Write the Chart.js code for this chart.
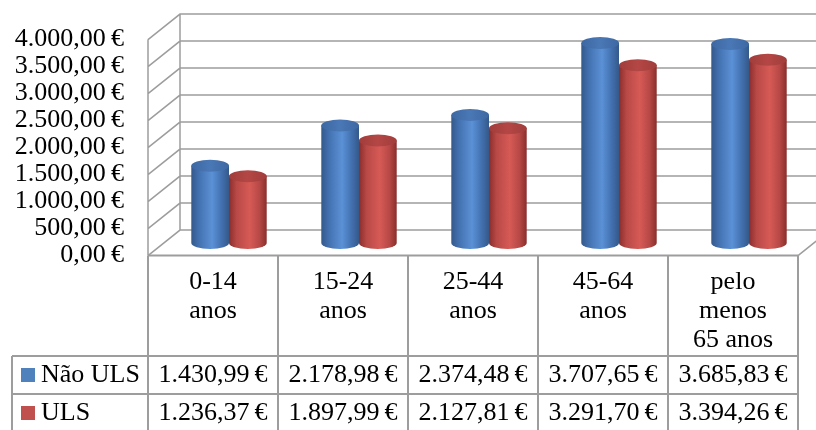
<!DOCTYPE html>
<html>
<head>
<meta charset="utf-8">
<script src="https://cdn.jsdelivr.net/npm/chart.js@4.4.0/dist/chart.umd.min.js"></script>
<style>
  html, body { margin: 0; padding: 0; background: #fff; }
  #wrap { width: 816px; height: 430px; position: relative; }
</style>
</head>
<body>
<div id="wrap"><canvas id="ageChart"></canvas></div>
<script>
// age groups (multi-line labels) and the two series
const categories = [['0-14', 'anos'], ['15-24', 'anos'], ['25-44', 'anos'], ['45-64', 'anos'], ['pelo', 'menos', '65 anos']];
const seriesNames = ['Não ULS', 'ULS'];
const naoUls = [1430.99, 2178.98, 2374.48, 3707.65, 3685.83];
const uls = [1236.37, 1897.99, 2127.81, 3291.70, 3394.26];
const yMax = 4000;
const yStep = 500;

const FONT = 'Liberation Serif, Times New Roman, serif';
const FONT_SIZE = 26;
const GRID = '#9d9d9d';
const DX = 32, DY = -25.5;          // depth of the 3d box
const SHIFT_X = 16, SHIFT_Y = -12.5; // cylinders sit half way back

const palette = [
  { edge: '#34598a', dark: '#4371b0', light: '#5b91d6', cap: '#3d68a2', capLight: '#4a78b6' },
  { edge: '#8a2e2c', dark: '#b84946', light: '#d65a56', cap: '#a03d3b', capLight: '#b44745' }
];

function euro(v) {
  const parts = v.toFixed(2).split('.');
  const int = parts[0].replace(/\B(?=(\d{3})+(?!\d))/g, '.');
  return int + ',' + parts[1] + '\u2009€';
}

function cylinder(ctx, cx, top, base, w, c) {
  const rx = w / 2, ry = 6, l = cx - rx, r = cx + rx;
  const g = ctx.createLinearGradient(l, 0, r, 0);
  g.addColorStop(0, c.edge);
  g.addColorStop(0.2, c.dark);
  g.addColorStop(0.55, c.light);
  g.addColorStop(0.8, c.dark);
  g.addColorStop(1, c.edge);
  ctx.fillStyle = g;
  ctx.beginPath();
  ctx.moveTo(l, top);
  ctx.lineTo(l, base);
  ctx.ellipse(cx, base, rx, ry, 0, Math.PI, 0, true);
  ctx.lineTo(r, top);
  ctx.closePath();
  ctx.fill();

  const cg = ctx.createLinearGradient(l, 0, r, 0);
  cg.addColorStop(0, c.cap);
  cg.addColorStop(0.5, c.capLight);
  cg.addColorStop(1, c.cap);
  ctx.fillStyle = cg;
  ctx.beginPath();
  ctx.ellipse(cx, top, rx, ry, 0, 0, Math.PI * 2);
  ctx.fill();
}

// back wall, side wall and floor lines, then the data table
const box3d = {
  id: 'box3d',
  beforeDatasetsDraw(chart) {
    const { ctx, chartArea: a, scales: { y } } = chart;
    ctx.save();
    ctx.strokeStyle = GRID;
    ctx.lineWidth = 1.5;
    ctx.beginPath();
    y.ticks.forEach(t => {
      const py = y.getPixelForValue(t.value);
      ctx.moveTo(a.left, py);
      ctx.lineTo(a.left + DX, py + DY);
      ctx.lineTo(chart.width + 5, py + DY);
    });
    ctx.moveTo(a.left, a.top);
    ctx.lineTo(a.left, a.bottom);
    ctx.moveTo(a.left + DX, a.top + DY);
    ctx.lineTo(a.left + DX, a.bottom + DY);
    ctx.moveTo(a.right, a.bottom);
    ctx.lineTo(a.right + DX, a.bottom + DY);
    ctx.stroke();
    ctx.restore();
  },
  beforeDatasetDraw() {
    return false; // bars are drawn as cylinders below
  },
  afterDatasetsDraw(chart) {
    const ctx = chart.ctx;
    ctx.save();
    ctx.translate(SHIFT_X, SHIFT_Y);
    chart.data.datasets.forEach((ds, d) => {
      chart.getDatasetMeta(d).data.forEach(bar => {
        cylinder(ctx, bar.x, bar.y, bar.base, bar.width, palette[d]);
      });
    });
    ctx.restore();
  },
  afterDraw(chart) {
    const { ctx, chartArea: a, scales: { x } } = chart;
    const rowTop = 356, rowMid = 394, bottom = chart.height;
    const colW = (a.right - a.left) / categories.length;
    ctx.save();
    ctx.strokeStyle = GRID;
    ctx.lineWidth = 2;
    ctx.beginPath();
    ctx.moveTo(a.left, a.bottom);
    ctx.lineTo(a.right, a.bottom);
    for (let i = 0; i <= categories.length; i++) {
      const px = a.left + i * colW;
      ctx.moveTo(px, a.bottom);
      ctx.lineTo(px, bottom);
    }
    ctx.moveTo(12, rowTop);
    ctx.lineTo(a.right, rowTop);
    ctx.moveTo(12, rowMid);
    ctx.lineTo(a.right, rowMid);
    ctx.moveTo(12, rowTop);
    ctx.lineTo(12, bottom);
    ctx.stroke();

    // value rows with legend keys
    const rows = [naoUls, uls];
    const rowY = [375, 413];
    ctx.font = FONT_SIZE + 'px ' + FONT;
    ctx.textBaseline = 'middle';
    rows.forEach((vals, r) => {
      ctx.fillStyle = chart.data.datasets[r].backgroundColor;
      ctx.fillRect(21, rowY[r] - 7, 14, 14);
      ctx.fillStyle = '#000';
      ctx.textAlign = 'left';
      ctx.fillText(seriesNames[r], 41, rowY[r]);
      ctx.textAlign = 'center';
      vals.forEach((v, i) => ctx.fillText(euro(v), x.getPixelForValue(i), rowY[r]));
    });
    ctx.restore();
  }
};

new Chart(document.getElementById('ageChart'), {
  type: 'bar',
  data: {
    labels: categories,
    datasets: [
      { label: seriesNames[0], data: naoUls, backgroundColor: '#4f81bd' },
      { label: seriesNames[1], data: uls, backgroundColor: '#c0504d' }
    ]
  },
  options: {
    responsive: true,
    maintainAspectRatio: false,
    animation: false,
    categoryPercentage: 0.58,
    barPercentage: 1,
    layout: { padding: { top: 38, bottom: 74.4, left: 0, right: 18 } },
    plugins: { legend: { display: false }, tooltip: { enabled: false } },
    scales: {
      x: {
        grid: { display: false, drawTicks: false },
        border: { display: false },
        ticks: { color: '#000', padding: 12, maxRotation: 0, font: { family: FONT, size: FONT_SIZE, lineHeight: 1.12 } },
        afterFit(scale) { scale.height = 100; }
      },
      y: {
        min: 0,
        max: yMax,
        grid: { display: false, drawTicks: false },
        border: { display: false },
        ticks: {
          stepSize: yStep,
          autoSkip: false,
          color: '#000',
          padding: 24,
          font: { family: FONT, size: FONT_SIZE },
          callback: v => euro(v)
        },
        afterFit(scale) { scale.width = 148; }
      }
    }
  },
  plugins: [box3d]
});
</script>
</body>
</html>
